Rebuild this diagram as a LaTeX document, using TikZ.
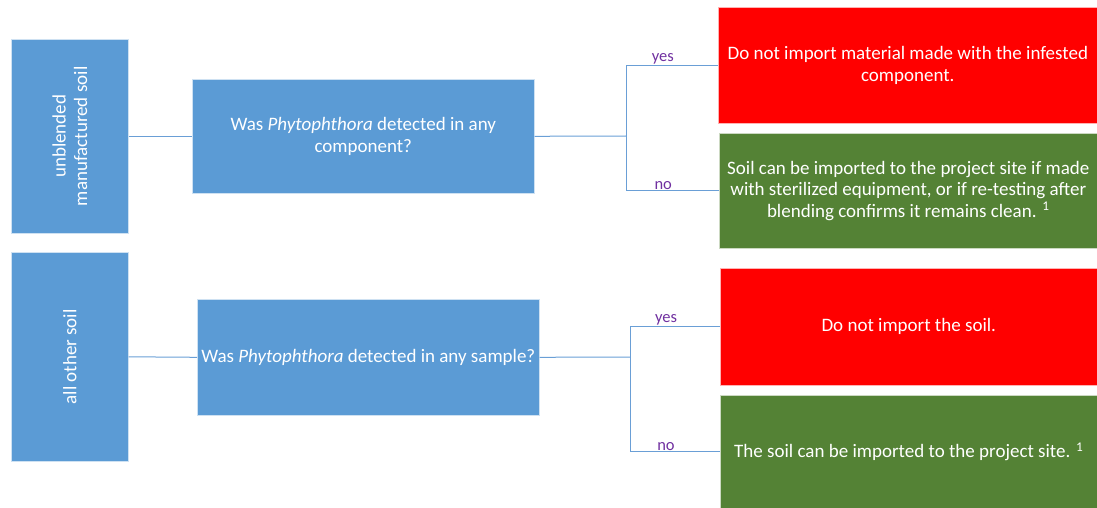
\documentclass[tikz,border=0pt]{standalone}
\usepackage{fontspec}
\setmainfont{Carlito}
\begin{document}
\begin{tikzpicture}[x=1pt,y=-1pt,
  box/.style={rectangle,anchor=north west,inner sep=0pt,align=center,
    text=white,font=\fontsize{19}{21.5}\selectfont,draw=white!70!#1,line width=0.6pt,fill=#1},
  sidetext/.style={rotate=90,align=center,text=white,font=\fontsize{19}{21.5}\selectfont},
  link/.style={draw=linkblue,line width=1pt},
  answer/.style={text=answerpurple,font=\fontsize{16.5}{18}\selectfont,above,inner sep=1pt}]
\definecolor{boxblue}{HTML}{5B9BD5}
\definecolor{boxred}{HTML}{FF0000}
\definecolor{boxgreen}{HTML}{548235}
\definecolor{linkblue}{HTML}{6A9FD6}
\definecolor{answerpurple}{HTML}{7030A0}
\useasboundingbox (0,0) rectangle (1097,508);

% soil categories
\node[box=boxblue,minimum width=117pt,minimum height=194pt] (cat1) at (11,39) {};
\node[sidetext] (cat1t) at (cat1.center) {unblended\\manufactured soil};
\node[box=boxblue,minimum width=117pt,minimum height=209pt] (cat2) at (11,252) {};
\node[sidetext] (cat2t) at (cat2.center) {all other soil};

% questions
\node[box=boxblue,minimum width=342pt,minimum height=114pt] (q1) at (192,79)
  {Was \textit{Phytophthora} detected in any\\component?};
\node[box=boxblue,minimum width=342pt,minimum height=116pt] (q2) at (197,299)
  {Was \textit{Phytophthora} detected in any sample?};

% outcomes
\node[box=boxred,minimum width=379pt,minimum height=116pt] (r1) at (718,7)
  {Do not import material made with the infested\\component.};
\node[box=boxgreen,minimum width=378pt,minimum height=115pt] (g1) at (719,133)
  {Soil can be imported to the project site if made\\with sterilized equipment, or if re-testing after\\blending confirms it remains clean. \textsuperscript{1}};
\node[box=boxred,minimum width=377pt,minimum height=117pt] (r2) at (720,268)
  {Do not import the soil.};
\node[box=boxgreen,minimum width=377pt,minimum height=113pt] (g2) at (720,395)
  {The soil can be imported to the project site. \textsuperscript{1}};

% branching points
\coordinate (j1) at (626,136);
\coordinate (j2) at (630,357);

% connectors
\draw[link] (cat1.east) -- (q1.west);
\draw[link] (cat2.east) -- (q2.west);
\draw[link] (q1.east) -- (j1);
\draw[link] (q2.east) -- (j2);
\draw[link] (j1) |- node[answer,pos=0.7] {yes} (r1.west);
\draw[link] (j1) |- node[answer,pos=0.7] {no} (g1.west);
\draw[link] (j2) |- node[answer,pos=0.7] {yes} (r2.west);
\draw[link] (j2) |- node[answer,pos=0.7] {no} (g2.west);
\end{tikzpicture}
\end{document}
